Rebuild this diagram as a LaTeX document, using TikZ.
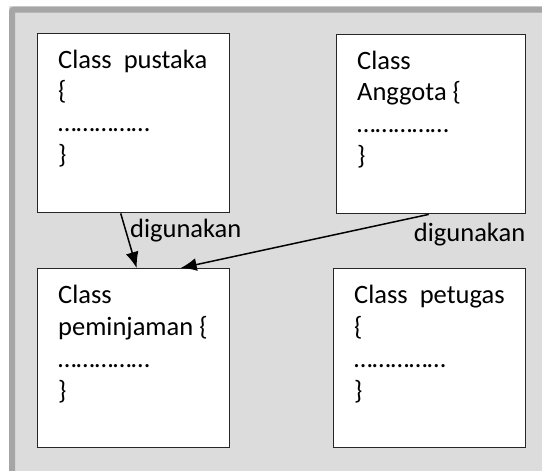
\documentclass[tikz,border=0pt]{standalone}
\usepackage{fontspec}
\setmainfont{Carlito}
\usepackage{tikz}
\usetikzlibrary{arrows.meta}
\definecolor{latar}{HTML}{DCDCDC}
\definecolor{bingkai}{HTML}{A6A6A6}

\begin{document}
\begin{tikzpicture}[x=1pt,y=-1pt,
	kelas/.style={draw=black!85,line width=1.4pt,fill=white,anchor=north west,minimum width=192pt,minimum height=179pt,inner sep=0pt},
	isi/.style={anchor=base west,inner sep=0pt,font=\fontsize{26.5}{32}\selectfont},
	panah/.style={line width=1.5pt,-{Latex[length=16pt,width=13pt]}}]
	\useasboundingbox (0,0) rectangle (542,471);
	% panel abu-abu
	\fill[latar] (9,6) rectangle (542,471);
	\draw[bingkai,line width=6pt,rounded corners=2pt] (12,471) -- (12,9.5) -- (542,9.5);
	% kotak kelas
	\node[kelas] (pustaka) at (37,33) {};
	\node[kelas,minimum width=189pt] (anggota) at (336,34) {};
	\node[kelas] (peminjaman) at (37,268) {};
	\node[kelas] (petugas) at (333,268) {};
	\node[isi] (t-pustaka) at ([xshift=21pt,yshift=-35pt]pustaka.north west)
		{\begin{minipage}[t]{170pt}Class\ \ pustaka\\\{\\……………\\\}\end{minipage}};
	\node[isi] (t-anggota) at ([xshift=21pt,yshift=-35pt]anggota.north west)
		{\begin{minipage}[t]{165pt}Class\\Anggota \{\\……………\\\}\end{minipage}};
	\node[isi] (t-peminjaman) at ([xshift=21pt,yshift=-35pt]peminjaman.north west)
		{\begin{minipage}[t]{170pt}Class\\peminjaman \{\\……………\\\}\end{minipage}};
	\node[isi] (t-petugas) at ([xshift=21pt,yshift=-35pt]petugas.north west)
		{\begin{minipage}[t]{170pt}Class\ \ petugas\\\{\\……………\\\}\end{minipage}};
	% relasi
	\draw[panah] ([xshift=-13pt]pustaka.south) -- node[isi,pos=0.45,xshift=1.5pt] (guna1) {digunakan} ([xshift=3pt]peminjaman.north);
	\draw[panah] ([xshift=-2.5pt]anggota.south) -- ([xshift=47pt]peminjaman.north);
	\node[isi,anchor=base east] (guna2) at ([xshift=-1pt,yshift=-27pt]anggota.south east) {digunakan};
\end{tikzpicture}
\end{document}
